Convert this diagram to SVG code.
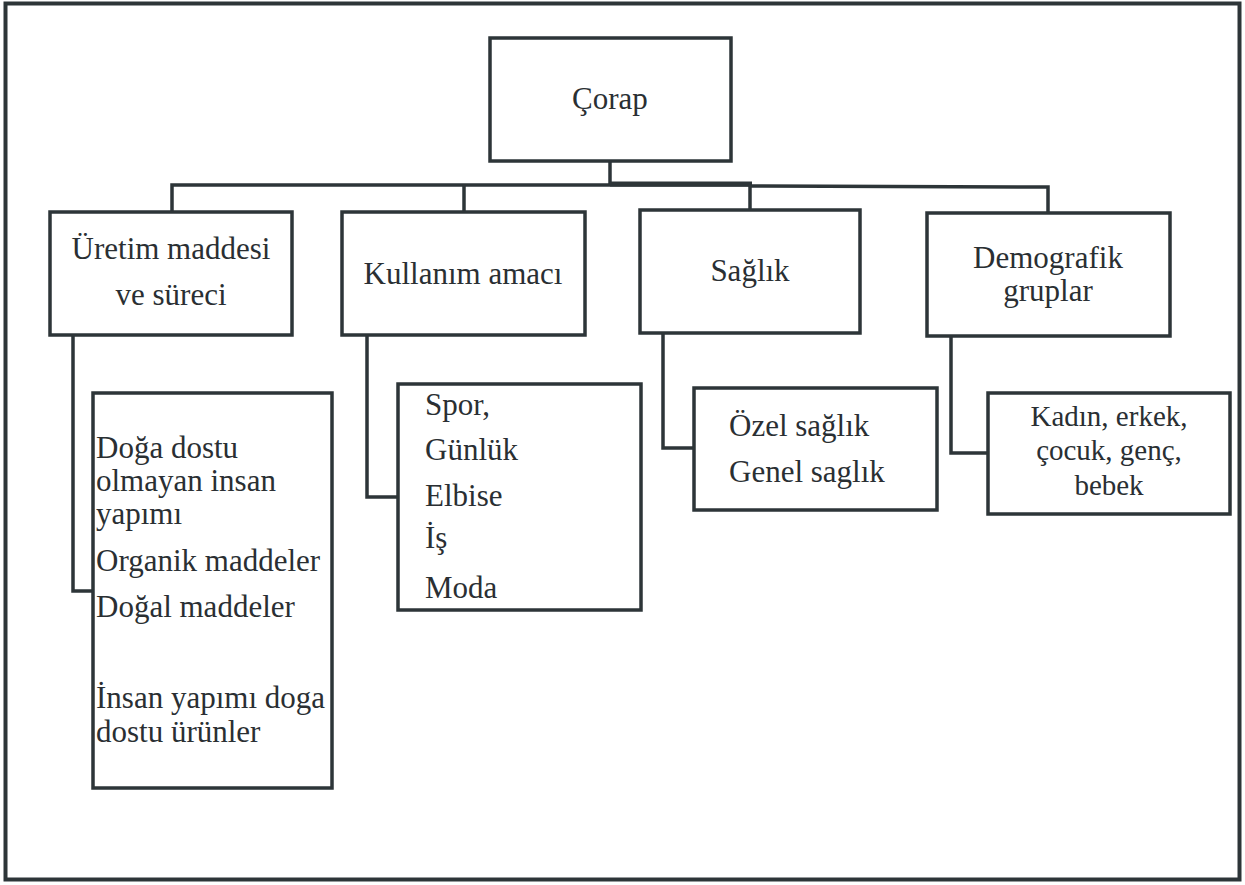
<svg xmlns="http://www.w3.org/2000/svg" width="1245" height="885" viewBox="0 0 1245 885">
<style>
.box{fill:#fff;stroke:#2d3538;stroke-width:3.5}
.ln{fill:none;stroke:#2d3538;stroke-width:3.5}
.t{font-family:"Liberation Serif","Times New Roman",serif;font-size:31px;fill:#2a2f33}
.s{font-size:29px}
.c{text-anchor:middle}
</style>
<rect width="1245" height="885" fill="#fff"/>
<rect id="frame" x="5.5" y="3.5" width="1234" height="876" fill="none" stroke="#2d3538" stroke-width="4"/>
<g id="connectors">
<polyline class="ln" points="610,161 610,185"/>
<polyline class="ln" points="172,212 172,185 752,185"/>
<polyline class="ln" points="610,184 752,184" style="stroke-width:5"/>
<polyline class="ln" points="464,212 464,185"/>
<polyline class="ln" points="750,210 750,186 1048,187 1048,213"/>
<polyline class="ln" points="73,335 73,591 93,591"/>
<polyline class="ln" points="367,335 367,497 398,497"/>
<polyline class="ln" points="663,333 663,448 694,448"/>
<polyline class="ln" points="951,336 951,453 988,453"/>
</g>
<g id="corap">
<rect class="box" x="490" y="38" width="241" height="123"/>
<text class="t c" x="610" y="109">Çorap</text>
</g>
<g id="uretim">
<rect class="box" x="50" y="212" width="242" height="123"/>
<text class="t c" x="171" y="259">Üretim maddesi</text>
<text class="t c" x="171" y="305">ve süreci</text>
</g>
<g id="kullanim">
<rect class="box" x="342" y="212" width="243" height="123"/>
<text class="t c" x="463" y="284">Kullanım amacı</text>
</g>
<g id="saglik">
<rect class="box" x="640" y="210" width="220" height="123"/>
<text class="t c" x="750" y="281">Sağlık</text>
</g>
<g id="demografik">
<rect class="box" x="927" y="213" width="243" height="123"/>
<text class="t c" x="1048" y="268">Demografik</text>
<text class="t c" x="1048" y="301">gruplar</text>
</g>
<g id="uretim-alt">
<rect class="box" x="93" y="393" width="239" height="395"/>
<text class="t" x="96" y="458">Doğa dostu</text>
<text class="t" x="96" y="491">olmayan insan</text>
<text class="t" x="96" y="524">yapımı</text>
<text class="t" x="96" y="571">Organik maddeler</text>
<text class="t" x="96" y="617">Doğal maddeler</text>
<text class="t" x="96" y="708">İnsan yapımı doga</text>
<text class="t" x="96" y="742">dostu ürünler</text>
</g>
<g id="kullanim-alt">
<rect class="box" x="398" y="384" width="243" height="226"/>
<text class="t" x="425" y="415">Spor,</text>
<text class="t" x="425" y="460">Günlük</text>
<text class="t" x="425" y="506">Elbise</text>
<text class="t" x="425" y="548">İş</text>
<text class="t" x="425" y="598">Moda</text>
</g>
<g id="saglik-alt">
<rect class="box" x="694" y="388" width="243" height="122"/>
<text class="t" x="729" y="436">Özel sağlık</text>
<text class="t" x="729" y="482">Genel saglık</text>
</g>
<g id="demografik-alt">
<rect class="box" x="988" y="393" width="242" height="121"/>
<text class="t s c" x="1109" y="426">Kadın, erkek,</text>
<text class="t s c" x="1109" y="460">çocuk, genç,</text>
<text class="t s c" x="1109" y="495">bebek</text>
</g>
</svg>
